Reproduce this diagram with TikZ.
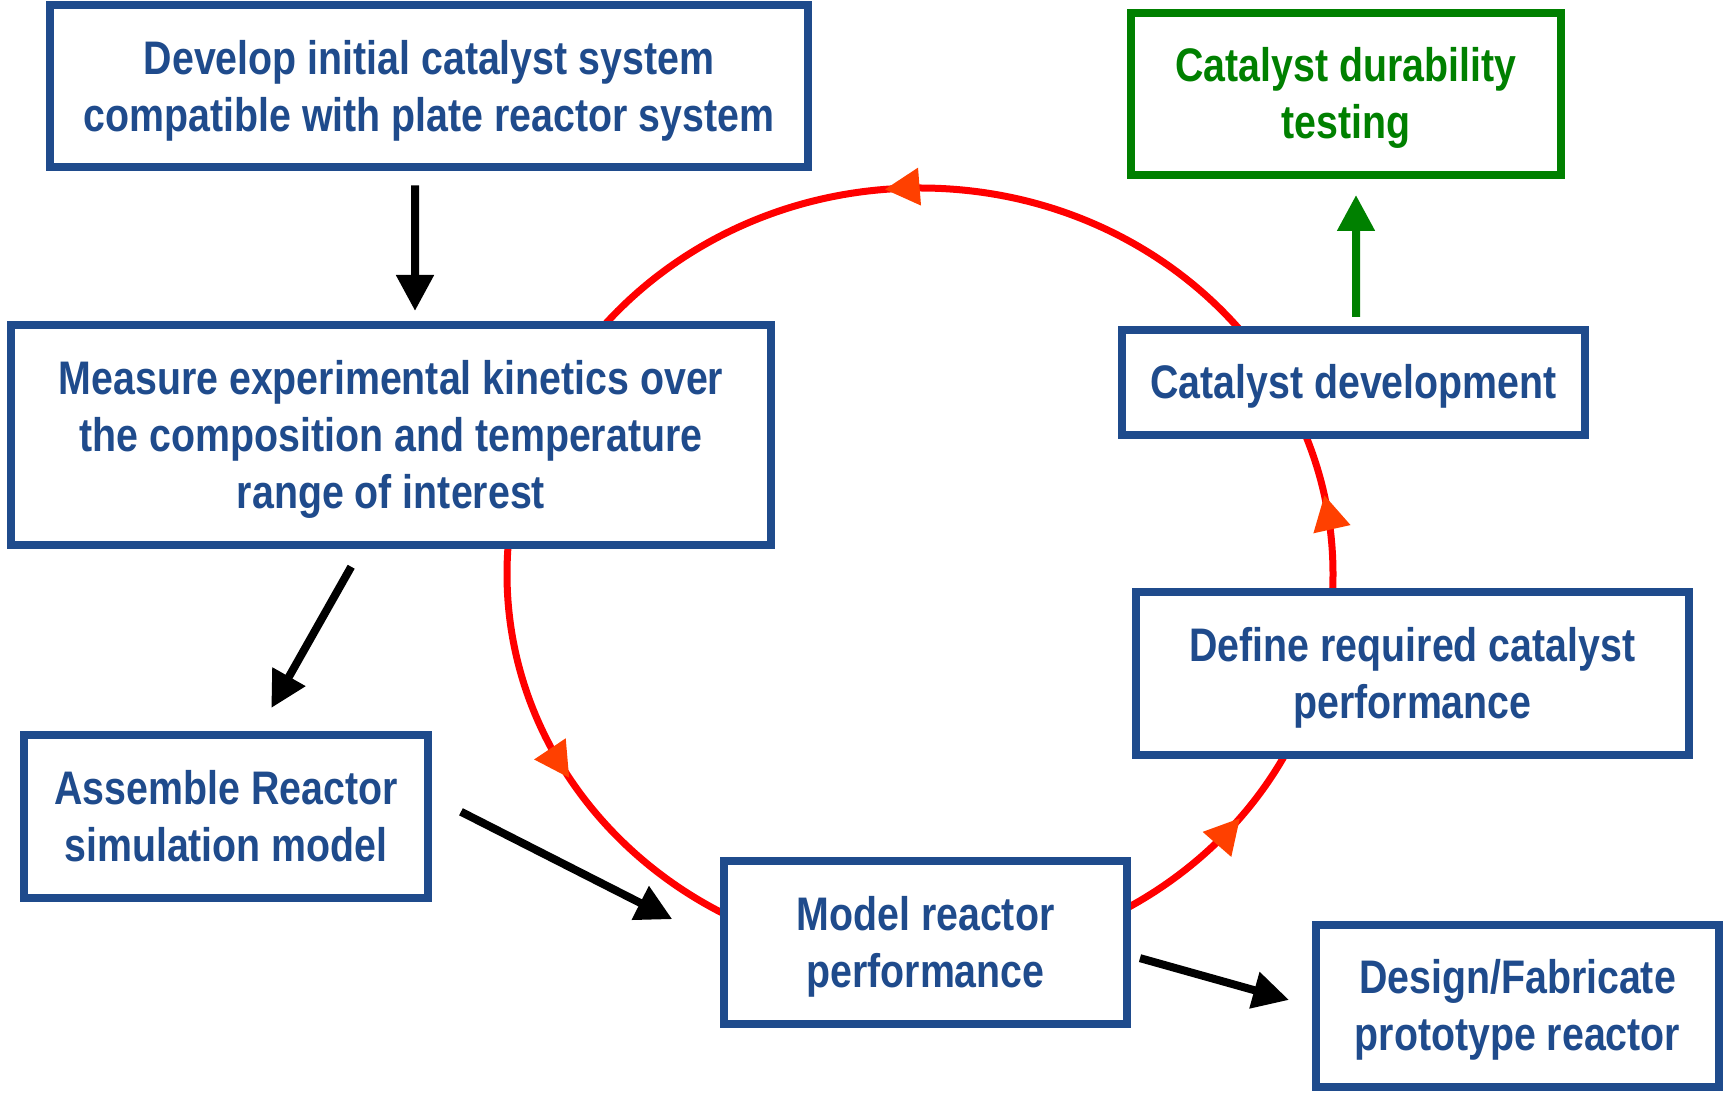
\documentclass[tikz,border=0pt]{standalone}
\usepackage{fontspec}
\setmainfont[FakeStretch=0.835]{Liberation Sans}
\usetikzlibrary{arrows.meta,decorations.markings}

\definecolor{boxblue}{RGB}{31,75,140}
\definecolor{boxgreen}{RGB}{0,128,0}
\definecolor{looped}{RGB}{255,0,0}
\definecolor{tipred}{RGB}{255,64,0}

% struts so that every box centres its lines the same way
\newcommand{\ts}{\rule{0pt}{0.905em}}
\newcommand{\bs}{\rule[-0.212em]{0pt}{0pt}}

\tikzset{
  stagebox/.style={rectangle,draw=boxblue,line width=0.8mm,fill=white,text=boxblue,
    align=center,inner sep=0pt,outer sep=0pt,font=\fontsize{13.4}{16.2}\selectfont\bfseries},
  testbox/.style={stagebox,draw=boxgreen,text=boxgreen},
  flowarrow/.style={line width=0.8mm,-{Triangle[length=3.6mm,width=3.6mm]}},
  cycleline/.style={draw=looped,line width=0.7mm,postaction={decorate},
    decoration={markings,
      mark=at position 0.0317 with {\arrow{Triangle[length=3.5mm,width=3.6mm,color=tipred]}},
      mark=at position 0.2641 with {\arrow{Triangle[length=3.5mm,width=3.6mm,color=tipred]}},
      mark=at position 0.5862 with {\arrow{Triangle[length=3.5mm,width=3.6mm,color=tipred]}},
      mark=at position 0.8937 with {\arrow{Triangle[length=3.5mm,width=3.6mm,color=tipred]}}}}
}

\begin{document}
\begin{tikzpicture}
\useasboundingbox (0,0) rectangle (17.29,-10.95);

% the design loop runs behind the boxes
\coordinate (loopcentre) at (9.20,-5.74);
\draw[cycleline] (loopcentre) ellipse [x radius=4.13cm, y radius=3.86cm];

\node[stagebox,minimum width=7.58cm,minimum height=1.62cm] (develop)    at (4.29,-0.865)  {\ts Develop initial catalyst system\\compatible with plate reactor system\bs};
\node[stagebox,minimum width=7.60cm,minimum height=2.20cm] (measure)    at (3.91,-4.35)   {\ts Measure experimental kinetics over\\the composition and temperature\\range of interest\bs};
\node[stagebox,minimum width=4.04cm,minimum height=1.63cm] (assemble)   at (2.26,-8.165)  {\ts Assemble Reactor\\simulation model\bs};
\node[stagebox,minimum width=4.03cm,minimum height=1.63cm] (model)      at (9.255,-9.425) {\ts Model reactor\\performance\bs};
\node[stagebox,minimum width=4.03cm,minimum height=1.62cm] (design)     at (15.175,-10.06){\ts Design/Fabricate\\prototype reactor\bs};
\node[stagebox,minimum width=5.53cm,minimum height=1.63cm] (define)     at (14.125,-6.735){\ts Define required catalyst\\performance\bs};
\node[stagebox,minimum width=4.63cm,minimum height=1.05cm] (catdev)     at (13.535,-3.825){\ts Catalyst development\bs};
\node[testbox, minimum width=4.30cm,minimum height=1.62cm] (durability) at (13.46,-0.94)  {\ts Catalyst durability\\testing\bs};

\draw[flowarrow] ([xshift=-1.4mm,yshift=-1.8mm]develop.south) -- ([xshift=2.4mm,yshift=1.4mm]measure.north);
\draw[flowarrow,shorten <=2.5mm,shorten >=3.1mm] ([xshift=-2.75mm]measure.south) -- ([xshift=3mm]assemble.north);
\draw[flowarrow,shorten <=3.7mm,shorten >=5.8mm] ([yshift=2.15mm]assemble.east) -- ([yshift=-0.3mm]model.west);
\draw[flowarrow,shorten <=1.35mm,shorten >=2.8mm] ([yshift=-1.2mm]model.east) -- ([yshift=-0.15mm]design.west);
\draw[flowarrow,boxgreen] ([xshift=0.25mm,yshift=1.3mm]catdev.north) -- ([xshift=1mm,yshift=-2mm]durability.south);
\end{tikzpicture}
\end{document}
